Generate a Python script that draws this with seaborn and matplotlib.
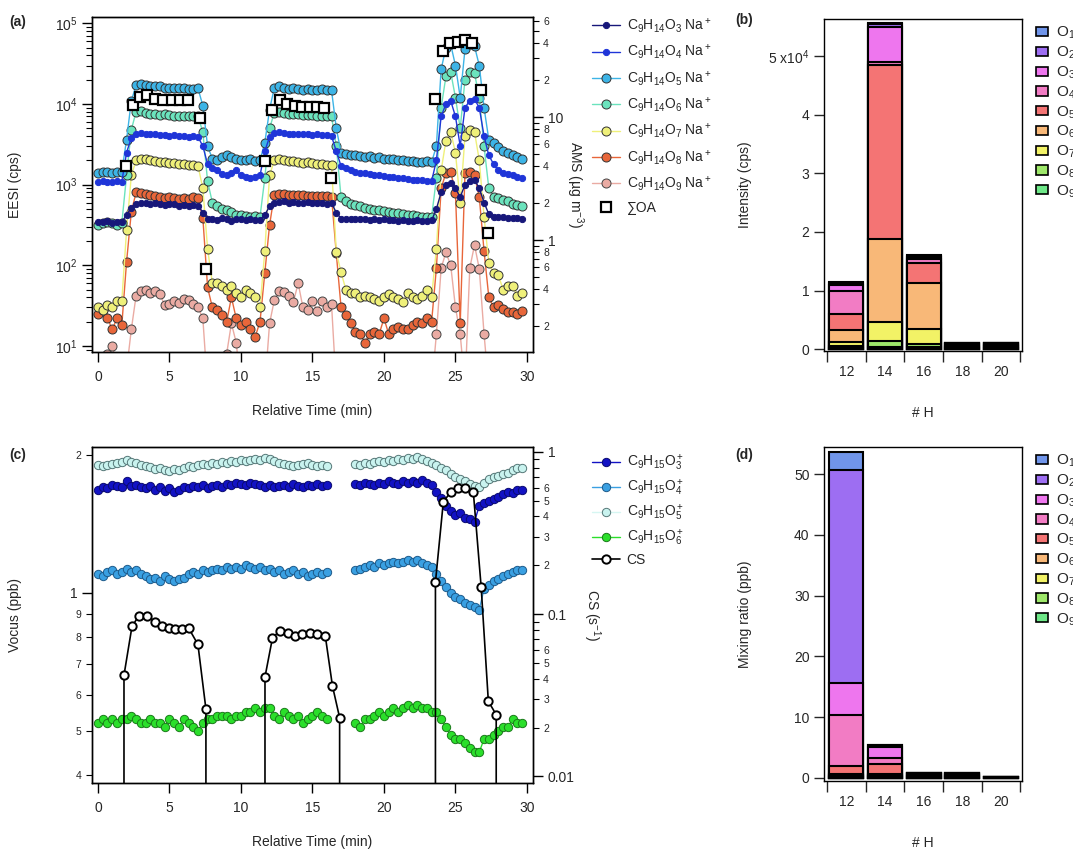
import numpy as np
import matplotlib
matplotlib.use("Agg")
import matplotlib.pyplot as plt
import matplotlib.ticker as mticker
from matplotlib.patches import Patch
import seaborn as sns

sns.set_theme(style="ticks")
plt.rcParams['font.family'] = ['Liberation Sans', 'DejaVu Sans']
plt.rcParams['mathtext.fontset'] = 'custom'
plt.rcParams['mathtext.rm'] = 'Liberation Sans'
plt.rcParams['mathtext.it'] = 'Liberation Sans:italic'
plt.rcParams['mathtext.bf'] = 'Liberation Sans:bold'
plt.rcParams['axes.edgecolor'] = 'black'
plt.rcParams['axes.linewidth'] = 1.0

# ---------------------------------------------------------------------------
# (a) EESI traces, one point every 20 s
time_min = np.arange(90) / 3

eesi_o3 = [340, 345, 350, 335, 340, 345, 420, 520,
           580, 600, 590, 580, 590, 570, 560, 580, 570, 550, 560, 540, 560, 550, 450, 380,
           370, 360, 390, 380, 350, 370, 380, 360, 370, 365, 360, 420, 540,
           600, 610, 620, 600, 610, 600, 590, 610, 600, 590, 600, 580, 590, 450, 380,
           380, 370, 375, 380, 370, 365, 375, 360, 370, 360, 365, 355, 360, 350, 355, 360, 350, 355, 360,
           500, 800, 1000, 1050, 900, 700, 1000, 1100, 1150, 900, 600, 430, 400,
           400, 395, 390, 385, 390, 380]
eesi_o4 = [1080, 1100, 1090, 1070, 1100, 1080, 2500, 3800,
           4300, 4400, 4300, 4200, 4200, 4100, 4100, 4000, 4100, 4000, 4000, 3900, 4000, 3900, 3000, 1800,
           1600, 1500, 1350, 1300, 1400, 1500, 1300, 1250, 1200, 1250, 1300, 2600, 3900,
           4400, 4500, 4400, 4300, 4300, 4200, 4300, 4200, 4100, 4200, 4100, 4100, 4000, 2600, 1700,
           1600, 1500, 1450, 1400, 1380, 1350, 1300, 1300, 1280, 1250, 1230, 1200, 1200, 1180, 1150, 1150, 1130, 1100, 1100,
           2000, 7000, 10000, 11000, 7000, 3000, 9000, 11000, 11500, 9000, 4000, 2300, 1800,
           1500, 1400, 1350, 1300, 1250, 1200]
eesi_o5 = [1400, 1420, 1450, 1400, 1430, 1450, 3600, 11000,
           17000, 17500, 17000, 16800, 16500, 16500, 16000, 16000, 15800, 15800, 16000, 15500, 15500, 15600, 9500, 3000,
           2100, 2000, 2200, 2300, 2200, 2100, 2000, 2000, 2100, 1950, 2000, 3300, 8500,
           16000, 16500, 16000, 15500, 15800, 15500, 15000, 15200, 15000, 15000, 15200, 15000, 14800, 5000, 2500,
           2400, 2300, 2350, 2250, 2200, 2250, 2150, 2200, 2100, 2050, 2100, 2000, 2000, 1950, 1950, 1900, 1900, 1950, 1900,
           3000, 27000, 50000, 55000, 30000, 12000, 48000, 55000, 52000, 30000, 9000, 3600, 3300,
           2900, 2600, 2450, 2300, 2200, 2050]
eesi_o6 = [320, 330, 340, 330, 320, 330, 1300, 4800,
           8000, 8200, 7800, 7600, 7500, 7400, 7500, 7300, 7200, 7200, 7100, 7000, 7100, 7000, 4500, 1100,
           600, 550, 500, 480, 460, 420, 420, 410, 400, 410, 400, 1200, 5000,
           7800, 8000, 7800, 7600, 7500, 7500, 7400, 7300, 7300, 7200, 7200, 7100, 7000, 3000, 700,
           620, 580, 560, 540, 520, 500, 490, 480, 470, 460, 450, 440, 430, 420, 420, 410, 400, 400, 400,
           1200, 9000, 22000, 25000, 12000, 5000, 20000, 25000, 24000, 12000, 3000, 900, 700,
           680, 650, 620, 580, 560, 540]
eesi_o7 = [30, 28, 32, 30, 36, 36, 270, 1300,
           2000, 2100, 2050, 2000, 1950, 1900, 1900, 1850, 1850, 1800, 1800, 1750, 1750, 1700, 900, 160,
           60, 60, 55, 50, 55, 45, 40, 50, 45, 40, 30, 150, 1300,
           2000, 2050, 2000, 1950, 1950, 1900, 1850, 1900, 1850, 1800, 1800, 1750, 1750, 145, 82,
           50, 45, 45, 40, 42, 40, 38, 36, 40, 44, 40, 38, 35, 45, 40, 38, 42, 50, 40,
           160, 1500, 3500, 4500, 2500, 600, 4000, 4800, 4500, 2000, 400, 106, 80,
           75, 50, 55, 55, 42, 45]
eesi_o8 = [25, 28, 22, 16, 22, 18, 110, 460,
           800, 780, 760, 740, 720, 700, 680, 700, 680, 660, 680, 660, 700, 680, 390, 53,
           30, 28, 24, 20, 40, 22, 18, 20, 16, 13, 20, 80, 315,
           750, 760, 760, 750, 740, 740, 740, 730, 730, 730, 720, 720, 710, 140, 30,
           24, 19, 15, 14, 11, 14, 15, 14, 22, 14, 16, 17, 16, 16, 18, 20, 19, 22, 20,
           92, 900, 1400, 1450, 790, 19, 1400, 1450, 1300, 700, 150, 40, 30,
           32, 29, 26, 26, 25, 27]
eesi_o9 = [5, 6, 8, 10, 6, 5, 5, 16,
           42, 48, 50, 45, 48, 44, 32, 33, 36, 34, 38, 37, 33, 30, 22, 3,
           3, 3, 3, 8, 19, 11, 3, 3, 3, 3, 3, 3, 19,
           37, 48, 46, 42, 35, 60, 30, 28, 36, 27, 36, 30, 33, 3, 3,
           3, 3, 3, 3, 3, 3, 3, 3, 3, 3, 3, 3, 3, 3, 3, 3, 3, 3, 3,
           14, 92, 145, 100, 30, 14, 3, 92, 178, 90, 14, 3, 3,
           3, 3, 3, 3, 3, 3]

# AMS total organics (right axis, ug m-3)
oa_time = [1.93, 2.47, 2.94, 3.40, 3.99, 4.57, 5.15, 5.73, 6.31, 7.13, 7.55,
           11.7, 12.2, 12.7, 13.2, 13.8, 14.3, 14.8, 15.3, 15.8, 16.3,
           23.6, 24.1, 24.6, 25.15, 25.65, 26.15, 26.8, 27.3]
oa_ugm3 = [4.0, 12.5, 14.6, 15.1, 14.1, 13.8, 13.8, 13.8, 13.8, 9.9, 0.58,
           4.4, 11.5, 13.7, 12.8, 12.3, 12.0, 12.0, 12.0, 11.8, 3.2,
           14.0, 34.6, 40.0, 41.0, 42.0, 40.0, 16.6, 1.14]

# ---------------------------------------------------------------------------
# (c) Vocus traces (ppb), gap while the instrument was off
nan = np.nan
vocus_o3 = [1.68, 1.70, 1.69, 1.72, 1.71, 1.70, 1.75, 1.71, 1.72, 1.70, 1.69, 1.71,
            1.68, 1.70, 1.67, 1.69, 1.66, 1.68, 1.70, 1.69, 1.71, 1.70, 1.72, 1.69,
            1.71, 1.72, 1.70, 1.73, 1.72, 1.74, 1.73, 1.72, 1.74, 1.73, 1.72, 1.70,
            1.72, 1.70, 1.71, 1.72, 1.70, 1.73, 1.71, 1.70, 1.72, 1.71, 1.73, 1.71, 1.72,
            nan, nan, nan, nan, nan,
            1.73, 1.72, 1.74, 1.73, 1.72, 1.74, 1.73, 1.75, 1.74, 1.73, 1.75, 1.74,
            1.75, 1.74, 1.76, 1.74, 1.72, 1.66, 1.61, 1.55, 1.51, 1.48, 1.49, 1.46,
            1.45, 1.43, 1.55, 1.57, 1.59, 1.60, 1.62, 1.64, 1.66, 1.65, 1.68, 1.68]
vocus_o4 = [1.10, 1.09, 1.11, 1.12, 1.10, 1.11, 1.13, 1.11, 1.12, 1.10, 1.09, 1.07,
            1.08, 1.06, 1.09, 1.07, 1.06, 1.07, 1.08, 1.10, 1.11, 1.10, 1.12, 1.11,
            1.12, 1.13, 1.12, 1.14, 1.13, 1.14, 1.13, 1.15, 1.14, 1.13, 1.14, 1.12,
            1.13, 1.11, 1.12, 1.10, 1.11, 1.12, 1.10, 1.11, 1.09, 1.10, 1.11, 1.10, 1.11,
            nan, nan, nan, nan, nan,
            1.12, 1.13, 1.14, 1.15, 1.14, 1.16, 1.15, 1.16, 1.17, 1.16, 1.17, 1.18,
            1.17, 1.18, 1.16, 1.15, 1.14, 1.10, 1.06, 1.03, 1.00, 0.98, 0.97, 0.95,
            0.94, 0.93, 0.92, 1.02, 1.04, 1.06, 1.07, 1.09, 1.10, 1.11, 1.12, 1.12]
vocus_o5 = [1.90, 1.89, 1.90, 1.91, 1.92, 1.93, 1.95, 1.93, 1.92, 1.90, 1.89, 1.88,
            1.86, 1.87, 1.85, 1.84, 1.86, 1.85, 1.87, 1.89, 1.88, 1.90, 1.91, 1.90,
            1.92, 1.91, 1.93, 1.92, 1.94, 1.93, 1.95, 1.94, 1.95, 1.96, 1.95, 1.97,
            1.96, 1.94, 1.92, 1.91, 1.90, 1.89, 1.90, 1.91, 1.92, 1.90, 1.89, 1.90, 1.89,
            nan, nan, nan, nan, nan,
            1.91, 1.90, 1.92, 1.91, 1.93, 1.94, 1.93, 1.95, 1.94, 1.96, 1.95, 1.97,
            1.96, 1.98, 1.96, 1.94, 1.92, 1.90, 1.87, 1.85, 1.82, 1.79, 1.77, 1.75,
            1.73, 1.71, 1.70, 1.74, 1.77, 1.79, 1.80, 1.82, 1.83, 1.85, 1.87, 1.87]
vocus_o6 = [0.52, 0.53, 0.52, 0.53, 0.52, 0.53, 0.53, 0.54, 0.53, 0.52, 0.52, 0.53,
            0.52, 0.52, 0.51, 0.53, 0.52, 0.51, 0.53, 0.52, 0.51, 0.50, 0.52, 0.53,
            0.53, 0.54, 0.54, 0.54, 0.53, 0.54, 0.54, 0.55, 0.55, 0.56, 0.55, 0.56,
            0.56, 0.54, 0.53, 0.55, 0.54, 0.53, 0.54, 0.52, 0.53, 0.54, 0.55, 0.54, 0.53,
            nan, nan, nan, nan, nan,
            0.52, 0.51, 0.53, 0.53, 0.54, 0.55, 0.54, 0.55, 0.56, 0.55, 0.56, 0.57,
            0.56, 0.57, 0.56, 0.56, 0.55, 0.55, 0.53, 0.51, 0.49, 0.48, 0.48, 0.47,
            0.46, 0.45, 0.45, 0.48, 0.48, 0.49, 0.50, 0.51, 0.51, 0.53, 0.52, 0.52]

# condensation sink (s-1); zeros outside the seed episodes
cs_time = [1.82, 1.82, 2.38, 2.84, 3.43, 4.01, 4.48, 4.94, 5.41, 5.87, 6.34, 6.99, 7.55, 7.55,
           11.68, 11.68, 12.2, 12.7, 13.26, 13.8, 14.3, 14.8, 15.3, 15.9, 16.4, 16.9, 16.9,
           23.6, 23.6, 24.15, 24.66, 25.2, 25.7, 26.25, 26.8, 27.3, 27.85, 27.85]
cs_s = [0, 0.042, 0.084, 0.097, 0.097, 0.090, 0.084, 0.082, 0.081, 0.081, 0.082, 0.065, 0.026, 0,
        0, 0.041, 0.071, 0.079, 0.077, 0.073, 0.075, 0.076, 0.075, 0.073, 0.036, 0.023, 0,
        0, 0.157, 0.49, 0.565, 0.60, 0.60, 0.565, 0.146, 0.029, 0.024, 0]

# ---------------------------------------------------------------------------
# (b), (d) distribution by number of H, rows are O1 ... O9
h_labels = ['12', '14', '16', '18', '20']
o_labels = ['O$_%d$' % k for k in range(1, 10)]
eesi_by_o = [[100, 200, 100, 0, 0],
             [300, 500, 200, 20, 0],
             [1000, 6000, 400, 30, 0],
             [4000, 400, 600, 50, 50],
             [2700, 29800, 3500, 100, 100],
             [2100, 14100, 7800, 200, 200],
             [700, 3400, 2500, 200, 200],
             [350, 1000, 600, 200, 250],
             [150, 300, 300, 200, 250]]
vocus_by_o = [[2.9, 0.05, 0, 0, 0],
              [35.0, 0.25, 0, 0, 0],
              [5.3, 1.8, 0, 0, 0],
              [8.5, 1.0, 0.05, 0.05, 0],
              [1.3, 1.7, 0.1, 0.1, 0.02],
              [0.15, 0.15, 0.1, 0.1, 0.04],
              [0.15, 0.15, 0.2, 0.2, 0.04],
              [0.15, 0.15, 0.2, 0.15, 0.05],
              [0.15, 0.15, 0.2, 0.15, 0.05]]
o_colors = ['#7095ea', '#9d6ef2', '#ee76ee', '#f27cc4', '#f47474',
            '#f8b878', '#f2f266', '#9ee86a', '#6ee888']


def digit_labels(keep):
    def fmt(v, pos):
        d = int(round(v / 10 ** np.floor(np.log10(v) + 1e-9)))
        return str(d) if d in keep else ''
    return mticker.FuncFormatter(fmt)


def log_axis(axis, major_fmt, keep):
    axis.set_major_locator(mticker.LogLocator(base=10, subs=(1.0,), numticks=12))
    axis.set_minor_locator(mticker.LogLocator(base=10, subs=np.arange(2, 10), numticks=12))
    axis.set_major_formatter(major_fmt)
    axis.set_minor_formatter(digit_labels(keep) if keep else mticker.NullFormatter())


def style_ticks(ax):
    ax.tick_params(which='major', direction='out', length=7, width=1, labelsize=10, color='black')
    ax.tick_params(which='minor', direction='out', length=4, width=0.8, labelsize=7.5, color='black')
    ax.tick_params(axis='x', which='major', pad=6)


def trace(ax, x, y, color, size, edge, label, lc=None, lw=1.0):
    line, = ax.plot(x, y, color=lc or color, lw=lw, marker='o', ms=size, mfc=color,
                    mec=edge, mew=0.7, label=label)
    return line


plain = mticker.FuncFormatter(lambda v, p: '%g' % v)

fig = plt.figure(figsize=(10.73, 8.5), dpi=100)
ax_a = fig.add_axes([0.0857, 0.5859, 0.4110, 0.3941])
ax_b = fig.add_axes([0.7680, 0.5871, 0.1845, 0.3906])
ax_c = fig.add_axes([0.0857, 0.0788, 0.4110, 0.3953])
ax_d = fig.add_axes([0.7680, 0.0812, 0.1845, 0.3930])

# ---- (a)
ax_a.set_yscale('log')
h = []
h.append(trace(ax_a, time_min, eesi_o9, '#eaaba3', 6.5, '#444444', 'C$_9$H$_{14}$O$_9$ Na$^+$'))
h.append(trace(ax_a, time_min, eesi_o8, '#e8663a', 6.5, '#333333', 'C$_9$H$_{14}$O$_8$ Na$^+$'))
h.append(trace(ax_a, time_min, eesi_o7, '#eff07a', 6.5, '#333333', 'C$_9$H$_{14}$O$_7$ Na$^+$'))
h.append(trace(ax_a, time_min, eesi_o6, '#6be3bd', 6.5, '#333333', 'C$_9$H$_{14}$O$_6$ Na$^+$'))
h.append(trace(ax_a, time_min, eesi_o5, '#3db4e6', 6.5, '#333333', 'C$_9$H$_{14}$O$_5$ Na$^+$'))
h.append(trace(ax_a, time_min, eesi_o4, '#1f35d8', 4.5, '#1f35d8', 'C$_9$H$_{14}$O$_4$ Na$^+$'))
h.append(trace(ax_a, time_min, eesi_o3, '#17177a', 4.5, '#17177a', 'C$_9$H$_{14}$O$_3$ Na$^+$'))
ax_a.set_ylim(8.4, 1.2e5)
ax_a.set_xlim(-0.42, 30.42)
ax_a.set_xticks(range(0, 31, 5))
log_axis(ax_a.yaxis, mticker.LogFormatterSciNotation(), None)
style_ticks(ax_a)
ax_a.set_ylabel('EESI (cps)', fontsize=10)
ax_a.yaxis.set_label_coords(-0.159, 0.5)
ax_a.set_xlabel('Relative Time (min)', fontsize=10)
ax_a.xaxis.set_label_coords(0.5, -0.155)

ax_a2 = ax_a.twinx()
ax_a2.set_yscale('log')
oa_line, = ax_a2.plot(oa_time, oa_ugm3, ls='none', marker='s', ms=6.5, mfc='white',
                      mec='black', mew=1.6, label='∑OA')
ax_a2.set_ylim(0.123, 65)
log_axis(ax_a2.yaxis, plain, (2, 4, 6, 8))
style_ticks(ax_a2)
ax_a2.set_ylabel('AMS (µg m$^{-3}$)', fontsize=10, rotation=270, va='bottom')
ax_a2.yaxis.set_label_coords(1.07, 0.5)
fig.legend(h[::-1] + [oa_line], [l.get_label() for l in h[::-1]] + ['∑OA'],
           loc='upper left', bbox_to_anchor=(0.540, 0.995), frameon=False,
           fontsize=10, handlelength=2.0, labelspacing=0.57, handletextpad=0.5)

# ---- (c)
ax_c.set_yscale('log')
hc = []
hc.append(trace(ax_c, time_min, vocus_o5, '#c9f3ef', 6, '#557777', 'C$_9$H$_{15}$O$_5^+$', lc='#d6f6f2'))
hc.append(trace(ax_c, time_min, vocus_o3, '#1212c4', 6, '#0a0a70', 'C$_9$H$_{15}$O$_3^+$'))
hc.append(trace(ax_c, time_min, vocus_o4, '#3aa0e2', 6, '#1d5a8a', 'C$_9$H$_{15}$O$_4^+$'))
hc.append(trace(ax_c, time_min, vocus_o6, '#2bdf2b', 6, '#1a7a1a', 'C$_9$H$_{15}$O$_6^+$'))
ax_c.set_ylim(0.385, 2.08)
ax_c.set_xlim(-0.42, 30.42)
ax_c.set_xticks(range(0, 31, 5))
log_axis(ax_c.yaxis, plain, tuple(range(2, 10)))
style_ticks(ax_c)
ax_c.set_ylabel('Vocus (ppb)', fontsize=10)
ax_c.yaxis.set_label_coords(-0.159, 0.5)
ax_c.set_xlabel('Relative Time (min)', fontsize=10)
ax_c.xaxis.set_label_coords(0.5, -0.155)

ax_c2 = ax_c.twinx()
ax_c2.set_yscale('log')
cs_line, = ax_c2.plot(cs_time, cs_s, color='black', lw=1.2, marker='o', ms=6,
                      mfc='white', mec='black', mew=1.4, label='CS')
ax_c2.set_ylim(0.0091, 1.07)
log_axis(ax_c2.yaxis, plain, (2, 3, 4, 5, 6))
style_ticks(ax_c2)
ax_c2.set_ylabel('CS (s$^{-1}$)', fontsize=10, rotation=270, va='bottom')
ax_c2.yaxis.set_label_coords(1.11, 0.5)
fig.legend([hc[1], hc[2], hc[0], hc[3], cs_line],
           [hc[1].get_label(), hc[2].get_label(), hc[0].get_label(), hc[3].get_label(), 'CS'],
           loc='upper left', bbox_to_anchor=(0.540, 0.482), frameon=False,
           fontsize=10, handlelength=2.0, labelspacing=0.36, handletextpad=0.5)


# ---- (b), (d) stacked bars: draw cumulative totals from the top down
def stacked(ax, rows):
    arr = np.array(rows, dtype=float)
    for k in range(9):
        sns.barplot(x=h_labels, y=arr[k:].sum(axis=0), color=o_colors[k], edgecolor='black',
                    linewidth=1.5, width=0.88, saturation=1, errorbar=None, ax=ax)
    ax.set_xlim(-0.58, 4.55)
    ax.set_xticks(np.arange(-0.5, 5, 1))
    ax.set_xticklabels([])
    ax.set_xticks(range(5), minor=True)
    ax.set_xticklabels(h_labels, minor=True)
    ax.tick_params(axis='x', which='major', direction='out', length=8, width=1)
    ax.tick_params(axis='x', which='minor', length=0, labelsize=10, pad=10)
    ax.tick_params(axis='y', which='major', direction='out', length=7, width=1, labelsize=10)
    for s in ax.spines.values():
        s.set_visible(True)
        s.set_color('black')
    ax.set_xlabel('# H', fontsize=10)
    ax.xaxis.set_label_coords(0.5, -0.165)
    ax.legend([Patch(facecolor=c, edgecolor='black', lw=1.2) for c in o_colors], o_labels,
              loc='upper left', bbox_to_anchor=(1.04, 1.0), bbox_transform=ax.transAxes,
              frameon=False, fontsize=11, handlelength=0.75, handleheight=0.55,
              labelspacing=0.22, handletextpad=0.55, borderaxespad=0)


stacked(ax_b, eesi_by_o)
ax_b.set_ylim(-330, 56400)
ax_b.set_yticks([0, 10000, 20000, 30000, 40000, 50000])
ax_b.set_yticklabels(['0', '1', '2', '3', '4', '5 x10$^4$'])
ax_b.set_ylabel('Intensity (cps)', fontsize=10)
ax_b.yaxis.set_label_coords(-0.364, 0.5)

stacked(ax_d, vocus_by_o)
ax_d.set_ylim(-0.5, 54.5)
ax_d.set_yticks(range(0, 51, 10))
ax_d.set_ylabel('Mixing ratio (ppb)', fontsize=10)
ax_d.yaxis.set_label_coords(-0.364, 0.5)

for txt, x, y in [('(a)', 0.009, 0.974), ('(b)', 0.685, 0.976),
                  ('(c)', 0.009, 0.465), ('(d)', 0.685, 0.465)]:
    fig.text(x, y, txt, fontsize=10, fontweight='bold', va='center')

fig.savefig('out.png', dpi=100)
